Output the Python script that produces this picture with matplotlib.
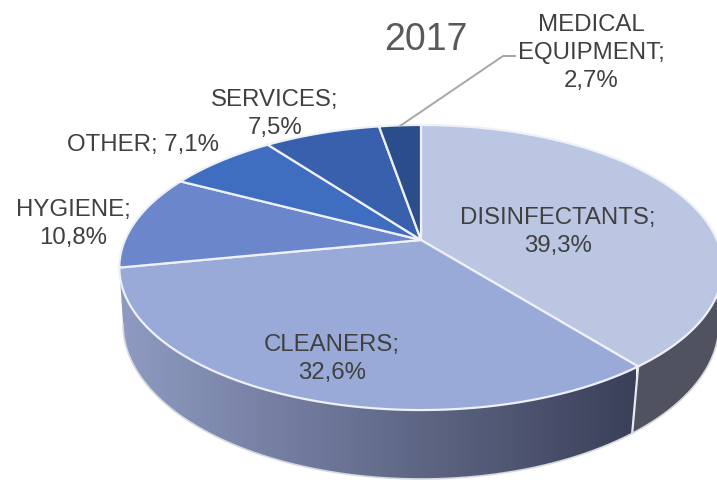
import numpy as np
import matplotlib
matplotlib.use("Agg")
import matplotlib.pyplot as plt
from matplotlib.patches import Polygon

plt.rcParams["font.family"] = ["Liberation Sans", "DejaVu Sans"]

categories = ["DISINFECTANTS", "CLEANERS", "HYGIENE", "OTHER", "SERVICES", "MEDICAL EQUIPMENT"]
shares = [39.3, 32.6, 10.8, 7.1, 7.5, 2.7]
top_colors = ["#BBC6E2", "#9AAAD8", "#6C86CC", "#3F6DBF", "#3860AC", "#2B4D8C"]

W, H = 717, 481
CX, CY = 421, 241      # where the wedges meet (perspective, not ellipse centre)
A, C, PERSP = 296, 90.7, 0.193
LOW_SPLIT = 2.354      # turn on the lower edge where the wall seam lands


def rim(turn):
    """Top face: clockwise turn from 12 o'clock -> pixel position, with perspective."""
    x, y = np.sin(turn), np.cos(turn)
    d = 1 + PERSP * y
    return CX + A * x / d, (CY - C * y) / d


def low_rim(turn):
    # lower edge of the side wall, fitted as a plain ellipse
    return 421 + 298 * np.sin(turn), 325 - 155 * np.cos(turn)


def wall_poly(t0, t1, low0, low1):
    tx, ty = rim(np.linspace(t0, t1, 200))
    bx, by = low_rim(np.linspace(low0, low1, 200))
    return np.r_[np.c_[tx, ty], np.c_[bx, by][::-1]]


fig = plt.figure(figsize=(W / 100, H / 100), dpi=100)
ax = fig.add_axes([0, 0, 1, 1])
ax.axis("off")

edges = 2 * np.pi * np.cumsum([0] + shares) / sum(shares)
split = edges[1]

# side wall, cleaners part with a horizontal gradient
wall = Polygon(wall_poly(split, 1.44 * np.pi, LOW_SPLIT, 1.5 * np.pi), closed=True, fc="none", ec="none")
ax.add_patch(wall)
grad = np.linspace(0, 1, 256).reshape(1, -1)
cmap = matplotlib.colors.LinearSegmentedColormap.from_list("wall", ["#8F9BC2", "#3B4059"])
im = ax.imshow(grad, cmap=cmap, extent=(118, 636, H, 0), aspect="auto", zorder=1)
im.set_clip_path(wall)
ax.set_xlim(0, W)
ax.set_ylim(H, 0)

# side wall, disinfectants part
ax.add_patch(Polygon(wall_poly(np.pi / 2 - 0.1, split, np.pi / 2 - 0.1, LOW_SPLIT), closed=True,
                     fc="#50535F", ec="none", zorder=1))
sx, sy = rim(split)
lx, ly = low_rim(LOW_SPLIT)
ax.plot([sx, lx], [sy, ly], color="#E8EAF0", lw=1.6, zorder=2)
ax.plot(*low_rim(np.linspace(np.pi / 2 - 0.1, 1.5 * np.pi, 300)), color="#D5D8DE", lw=1.2, zorder=2)

# top face
for i, col in enumerate(top_colors):
    px, py = rim(np.linspace(edges[i], edges[i + 1], 120))
    pts = np.r_[[[CX, CY]], np.c_[px, py]]
    ax.add_patch(Polygon(pts, closed=True, fc=col, ec="#EEF1F8", lw=1.6, zorder=3))

# labels
txt = dict(color="#404040", ha="center", va="center", fontsize=17.3, linespacing=1.38, zorder=5)
ax.text(558, 232, f"{categories[0]};\n39,3%", **txt)
ax.text(332, 359, f"{categories[1]};\n32,6%", **txt)
ax.text(73, 224, f"{categories[2]};\n10,8%", **txt)
ax.text(143, 145, f"{categories[3]}; 7,1%", **txt)
ax.text(275, 114, f"{categories[4]};\n7,5%", **txt)
ax.text(591, 53, "MEDICAL\nEQUIPMENT;\n2,7%", **txt)
ax.text(426, 40, "2017", color="#595959", ha="center", va="center", fontsize=27, zorder=5)

# leader line for the medical label
ax.plot([400, 503, 515], [127, 57, 57], color="#A6A6A6", lw=1.4, zorder=4)

fig.savefig("out.png", dpi=100)
